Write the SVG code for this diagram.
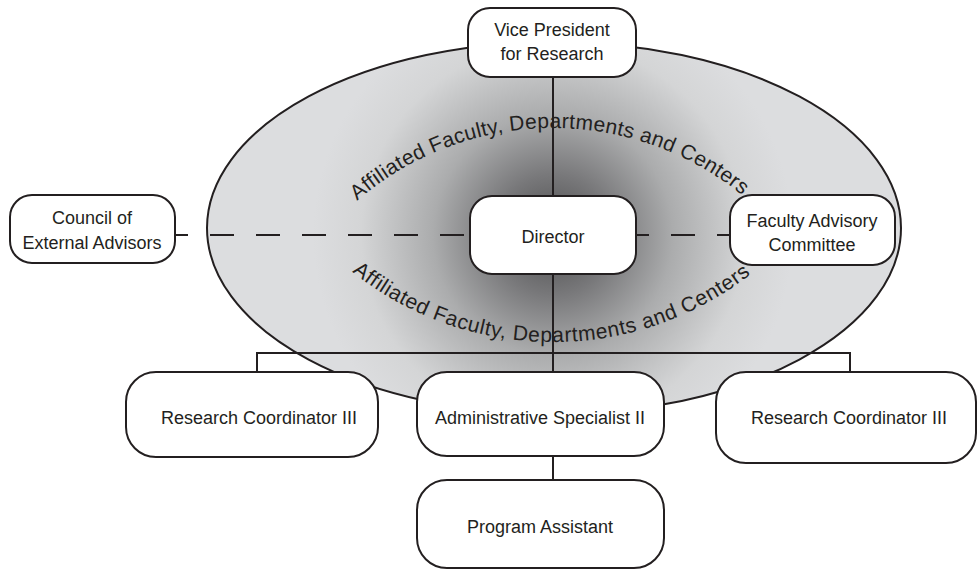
<svg xmlns="http://www.w3.org/2000/svg" width="979" height="571" viewBox="0 0 979 571">
<style>
.box{fill:#fff;stroke:#231f20;stroke-width:2}
.ln{fill:none;stroke:#231f20;stroke-width:2}
.dash{fill:none;stroke:#231f20;stroke-width:2;stroke-dasharray:24 22;stroke-dashoffset:11}
.t{font-family:"Liberation Sans",Arial,sans-serif;font-size:18px;fill:#231f20;text-anchor:middle}
.arc{font-family:"Liberation Sans",Arial,sans-serif;font-size:21px;fill:#231f20;text-anchor:middle}
</style>
<defs>
<radialGradient id="g" gradientUnits="userSpaceOnUse" cx="553" cy="235" r="240">
<stop offset="0" stop-color="#4a4a4b"/>
<stop offset="0.25" stop-color="#78787a"/>
<stop offset="0.5" stop-color="#abacad"/>
<stop offset="0.8" stop-color="#d4d5d6"/>
<stop offset="1" stop-color="#dcdddf"/>
</radialGradient>
<path id="up" d="M293.2 278 A300 300 0 0 1 812.8 278"/>
<path id="lo" d="M274.1 181 A322 322 0 0 0 831.9 181"/>
</defs>
<g id="ellipse">
<ellipse cx="554" cy="228" rx="347" ry="186" fill="url(#g)" stroke="#231f20" stroke-width="2"/>
<text class="arc"><textPath href="#up" startOffset="49.3%" textLength="418" lengthAdjust="spacing">Affiliated Faculty, Departments and Centers</textPath></text>
<text class="arc"><textPath href="#lo" startOffset="49.7%" textLength="430" lengthAdjust="spacing">Affiliated Faculty, Departments and Centers</textPath></text>
</g>
<g id="connectors">
<line class="ln" x1="553" y1="77" x2="553" y2="196"/>
<line class="ln" x1="553" y1="274" x2="553" y2="372"/>
<polyline class="ln" points="257,372 257,353 850,353 850,372"/>
<line class="ln" x1="553" y1="456" x2="553" y2="480"/>
<line class="dash" x1="175" y1="235" x2="470" y2="235"/>
<line class="dash" x1="636" y1="235" x2="730" y2="235"/>
</g>
<g id="vp">
<rect class="box" x="468" y="8" width="168" height="69" rx="22"/>
<text class="t" x="552" y="36">Vice President</text>
<text class="t" x="552" y="60">for Research</text>
</g>
<g id="council">
<rect class="box" x="10" y="195" width="165" height="68" rx="22"/>
<text class="t" x="92" y="224">Council of</text>
<text class="t" x="92" y="249">External Advisors</text>
</g>
<g id="director">
<rect class="box" x="470" y="196" width="166" height="78" rx="22"/>
<text class="t" x="553" y="243">Director</text>
</g>
<g id="fac">
<rect class="box" x="730" y="195" width="165" height="70" rx="22"/>
<text class="t" x="812" y="227">Faculty Advisory</text>
<text class="t" x="812" y="251">Committee</text>
</g>
<g id="rc1">
<rect class="box" x="126" y="372" width="252" height="85" rx="30"/>
<text class="t" x="259" y="424">Research Coordinator III</text>
</g>
<g id="admin">
<rect class="box" x="417" y="372" width="247" height="84" rx="30"/>
<text class="t" x="540" y="424">Administrative Specialist II</text>
</g>
<g id="rc2">
<rect class="box" x="716" y="372" width="260" height="91" rx="30"/>
<text class="t" x="849" y="424">Research Coordinator III</text>
</g>
<g id="pa">
<rect class="box" x="417" y="480" width="247" height="88" rx="30"/>
<text class="t" x="540" y="533">Program Assistant</text>
</g>
</svg>
